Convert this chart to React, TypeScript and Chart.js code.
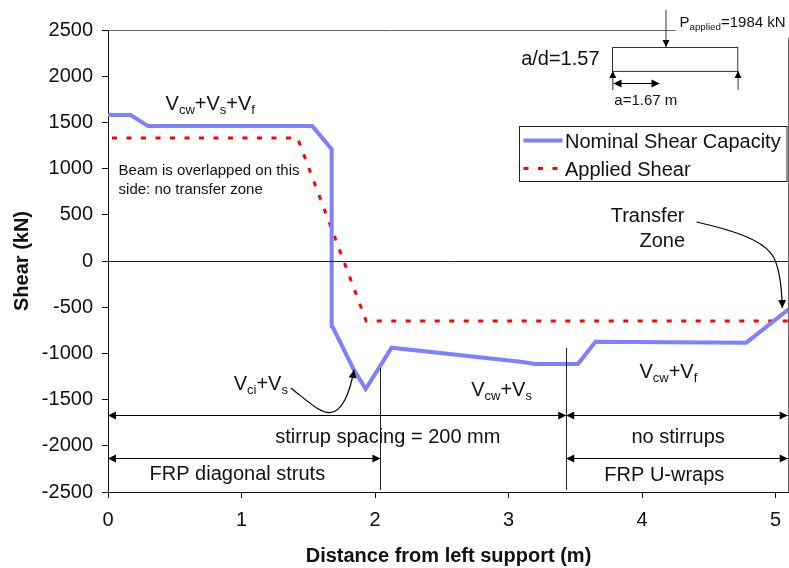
import React, { useEffect, useRef } from "react";
import { Chart, registerables } from "chart.js";

Chart.register(...registerables);

const capacityX = [0, 0.17, 0.3, 1.53, 1.675, 1.675, 1.685, 1.835, 1.93, 2.124, 3.09, 3.2, 3.52, 3.65, 4.78, 5.1];
const capacityY = [1580, 1580, 1460, 1460, 1210, -710, -720, -1160, -1385, -938, -1090, -1115, -1115, -873, -884, -520];
const appliedX = [0.03, 1.42, 1.934, 5.1];
const appliedY = [1330, 1330, -650, -650];
const xTicks = [0, 1, 2, 3, 4, 5];
const seriesNames = ["Nominal Shear Capacity", "Applied Shear"];

type Run = [string, boolean?];
const labelsLarge: [number, number, Run[]][] = [
  [0.431, 1634, [["V"], ["cw", true], ["+V"], ["s", true], ["+V"], ["f", true]]],
  [0.941, -1396, [["V"], ["ci", true], ["+V"], ["s", true]]],
  [2.72, -1461, [["V"], ["cw", true], ["+V"], ["s", true]]],
  [3.98, -1266, [["V"], ["cw", true], ["+V"], ["f", true]]],
  [1.253, -1969, [["stirrup spacing = 200 mm"]]],
  [3.92, -1969, [["no stirrups"]]],
  [0.311, -2370, [["FRP diagonal struts"]]],
  [3.717, -2380, [["FRP U-wraps"]]],
  [3.765, 422, [["Transfer"]]],
  [3.98, 151, [["Zone"]]],
  [3.094, 2121, [["a/d=1.57"]]],
];
const labelsSmall: [number, number, Run[]][] = [
  [0.079, 930, [["Beam is overlapped on this"]]],
  [0.079, 725, [["side: no transfer zone"]]],
  [4.28, 2532, [["P"], ["applied", true], ["=1984 kN"]]],
  [3.792, 1688, [["a=1.67 m"]]],
];
const spans: [number, number, number][] = [
  [0, 3.432, -1666],
  [3.432, 5.09, -1666],
  [0, 2.04, -2132],
  [3.432, 5.09, -2132],
  [3.785, 4.13, 1926],
];
const dividers: [number, number, number][] = [
  [2.04, -1158, -2478],
  [3.432, -941, -2478],
];
const beam = [3.777, 2315, 4.715, 2056];
const arrowsDown: [number, number, number, number][] = [
  [4.175, 2716, 4.175, 2315],
  [3.777, 1850, 3.777, 2056],
  [4.715, 1850, 4.715, 2056],
];
const curves: number[][] = [
  [1.369, -1374, 1.512, -1536, 1.587, -1645, 1.662, -1641, 1.752, -1634, 1.812, -1428, 1.842, -1179],
  [4.407, 422, 4.703, 325, 4.887, 227, 4.962, 87, 5.022, -11, 5.045, -260, 5.05, -509],
];

const INK = "#111";
const SANS = '"Liberation Sans", Arial, sans-serif';

const annotate = {
  id: "annotate",
  afterDatasetsDraw(chart: any) {
    const { ctx, scales } = chart;
    const X = (v: number) => scales.x.getPixelForValue(v);
    const Y = (v: number) => scales.y.getPixelForValue(v);
    const head = (x: number, y: number, ang: number, s = 8) => {
      ctx.save();
      ctx.translate(x, y);
      ctx.rotate(ang);
      ctx.beginPath();
      ctx.moveTo(0, 0);
      ctx.lineTo(-s, -s * 0.5);
      ctx.lineTo(-s, s * 0.5);
      ctx.closePath();
      ctx.fillStyle = "#000";
      ctx.fill();
      ctx.restore();
    };
    const line = (a: number, b: number, c: number, d: number, col = INK, w = 1) => {
      ctx.beginPath();
      ctx.moveTo(a, b);
      ctx.lineTo(c, d);
      ctx.strokeStyle = col;
      ctx.lineWidth = w;
      ctx.stroke();
    };
    const text = (x: number, y: number, runs: Run[], size: number) => {
      let cx = x;
      ctx.textAlign = "left";
      ctx.textBaseline = "alphabetic";
      ctx.fillStyle = INK;
      for (const [s, sub] of runs) {
        ctx.font = `${sub ? size * 0.65 : size}px ${SANS}`;
        ctx.fillText(s, cx, sub ? y + size * 0.2 : y);
        cx += ctx.measureText(s).width;
      }
    };

    ctx.save();
    // zero line and frame lines
    line(X(0), Math.round(Y(0)) + 0.5, X(5.1), Math.round(Y(0)) + 0.5, "#222");
    line(X(0), Y(2500) + 0.5, X(4.25), Y(2500) + 0.5, "#666");
    line(X(5.1) - 0.5, Y(2415), X(5.1) - 0.5, Y(-2500), "#666");

    for (const [x, a, b] of dividers) line(Math.round(X(x)) + 0.5, Y(a), Math.round(X(x)) + 0.5, Y(b), "#222");
    for (const [a, b, y] of spans) {
      const py = Math.round(Y(y)) + 0.5;
      line(X(a), py, X(b), py, "#000");
      head(X(a), py, Math.PI);
      head(X(b), py, 0);
    }
    ctx.strokeStyle = "#333";
    ctx.lineWidth = 1;
    ctx.strokeRect(Math.round(X(beam[0])) + 0.5, Math.round(Y(beam[1])) + 0.5, X(beam[2]) - X(beam[0]), Y(beam[3]) - Y(beam[1]));
    for (const [a, b, c, d] of arrowsDown) {
      line(X(a) + 0.5, Y(b), X(c) + 0.5, Y(d), "#333");
      head(X(c) + 0.5, Y(d), d > b ? -Math.PI / 2 : Math.PI / 2, 7);
    }
    for (const c of curves) {
      ctx.beginPath();
      ctx.moveTo(X(c[0]), Y(c[1]));
      ctx.bezierCurveTo(X(c[2]), Y(c[3]), X(c[4]), Y(c[5]), X(c[6]), Y(c[7]));
      ctx.bezierCurveTo(X(c[8]), Y(c[9]), X(c[10]), Y(c[11]), X(c[12]), Y(c[13]));
      ctx.strokeStyle = "#000";
      ctx.lineWidth = 1.2;
      ctx.stroke();
      head(X(c[12]), Y(c[13]), Math.atan2(Y(c[13]) - Y(c[11]), X(c[12]) - X(c[10])));
    }
    for (const [x, y, r] of labelsLarge) text(X(x), Y(y), r, 20);
    for (const [x, y, r] of labelsSmall) text(X(x), Y(y), r, 15);

    // legend
    const lx = 519.5, ly = 126.5, lw = 267.5, lh = 55;
    ctx.fillStyle = "#fff";
    ctx.fillRect(lx, ly, lw, lh);
    ctx.strokeStyle = "#222";
    ctx.lineWidth = 1;
    ctx.strokeRect(lx, ly, lw, lh);
    chart.data.datasets.forEach((ds: any, i: number) => {
      const yy = ly + 14 + i * 28;
      ctx.beginPath();
      ctx.moveTo(lx + 4, yy);
      ctx.lineTo(lx + 43, yy);
      ctx.strokeStyle = ds.borderColor;
      ctx.lineWidth = ds.borderWidth;
      ctx.setLineDash(ds.borderDash || []);
      ctx.stroke();
      ctx.setLineDash([]);
      ctx.font = `20px ${SANS}`;
      ctx.fillStyle = INK;
      ctx.textAlign = "left";
      ctx.textBaseline = "middle";
      ctx.fillText(ds.label, lx + 45.5, yy + 1.5);
    });
    ctx.restore();
  },
};

export default function App() {
  const ref = useRef<HTMLCanvasElement>(null);
  useEffect(() => {
    const chart = new Chart(ref.current!, {
      type: "line",
      data: {
        datasets: [
          {
            label: seriesNames[0],
            data: capacityX.map((x, i) => ({ x, y: capacityY[i] })),
            borderColor: "#7f7fff",
            borderWidth: 4,
            pointRadius: 0,
            tension: 0,
          },
          {
            label: seriesNames[1],
            data: appliedX.map((x, i) => ({ x, y: appliedY[i] })),
            borderColor: "#ff0000",
            borderWidth: 3,
            borderDash: [5, 9.5],
            pointRadius: 0,
            tension: 0,
          },
        ],
      },
      options: {
        animation: false,
        responsive: false,
        layout: { padding: { top: 30, right: 0, left: 0, bottom: 0 } },
        plugins: { legend: { display: false }, tooltip: { enabled: false } },
        scales: {
          x: {
            type: "linear",
            min: 0,
            max: 5.1,
            afterFit: (s: any) => { s.height = 76; s.paddingRight = 0; s.paddingLeft = 0; },
            afterBuildTicks: (s: any) => { s.ticks = xTicks.map((value) => ({ value })); },
            grid: { drawOnChartArea: false, color: "#111", tickLength: 6 },
            border: { color: "#111", width: 1 },
            ticks: { color: INK, font: { family: SANS, size: 20 }, padding: 10, maxRotation: 0, autoSkip: false, callback: (v: any) => String(v) },
            title: { display: true, text: "Distance from left support (m)", color: INK, font: { family: SANS, size: 20, weight: "bold" }, padding: { top: 8, bottom: 0 } },
          },
          y: {
            min: -2500,
            max: 2500,
            afterFit: (s: any) => { s.width = 108; s.paddingTop = 0; s.paddingBottom = 0; },
            grid: { drawOnChartArea: false, color: "#111", tickLength: 6 },
            border: { color: "#111", width: 1 },
            ticks: { stepSize: 500, color: INK, font: { family: SANS, size: 20 }, padding: 9, callback: (v: any) => String(v) },
            title: { display: true, text: "Shear (kN)", color: INK, font: { family: SANS, size: 20, weight: "bold" }, padding: { top: 10, bottom: 0 } },
          },
        },
      },
      plugins: [annotate],
    } as any);
    return () => chart.destroy();
  }, []);
  return (
    <div style={{ position: "absolute", left: 0, top: 0, width: 789, height: 568 }}>
      <canvas ref={ref} width={789} height={568} style={{ display: "block" }} />
    </div>
  );
}
